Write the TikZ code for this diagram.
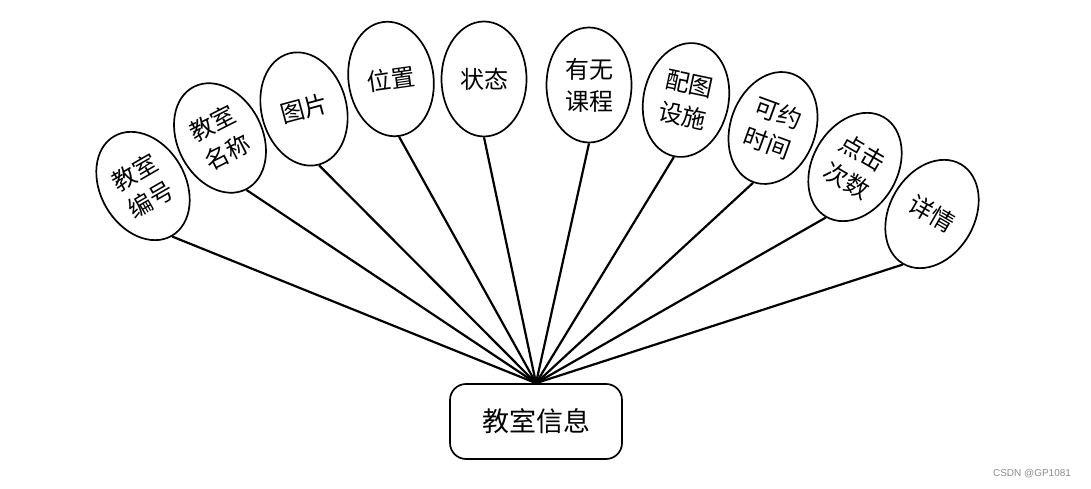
\documentclass[tikz,border=0pt]{standalone}
\usepackage{fontspec}
\setmainfont{Noto Sans CJK SC}
\newfontfamily\wmfont{Liberation Sans}
\usepackage{tikz}
\usetikzlibrary{shapes}
\tikzstyle{attr}=[draw,ellipse,line width=1.7pt,minimum width=85pt,minimum height=115pt,inner sep=0pt,align=center,font=\fontsize{24}{32}\selectfont]
\tikzstyle{entity}=[draw,rectangle,rounded corners=16pt,line width=1.7pt,minimum width=172pt,minimum height=75pt,font=\fontsize{27}{32}\selectfont]
\tikzstyle{link}=[line width=2.2pt]

\begin{document}
\begin{tikzpicture}[x=1pt,y=1pt]
    \useasboundingbox (0,0) rectangle (1091,489);
    \node[entity] (info) at (536,67.5) {教室信息};
    \node[attr, rotate=30] (num) at (143,303) {教室\\编号};
    \node[attr, rotate=27] (name) at (220,351) {教室\\名称};
    \node[attr, rotate=15] (pic) at (304,380) {图片};
    \node[attr, rotate=8] (pos) at (391,410) {位置};
    \node[attr] (state) at (484,410) {状态};
    \node[attr] (course) at (589,404) {有无\\课程};
    \node[attr, rotate=-12] (equip) at (686,389) {配图\\设施};
    \node[attr, rotate=-20] (time) at (773,361) {可约\\时间};
    \node[attr, rotate=-30] (clicks) at (855,322) {点击\\次数};
    \node[attr, rotate=-30] (detail) at (932,275) {详情};
    \node[font=\wmfont\fontsize{10}{12}\selectfont, text=black!45] (mark) at (1032,15) {CSDN @GP1081};
    \draw[link] (info.north) -- (num.south);
    \draw[link] (info.north) -- (name.south);
    \draw[link] (info.north) -- (pic.south);
    \draw[link] (info.north) -- (pos.south);
    \draw[link] (info.north) -- (state.south);
    \draw[link] (info.north) -- (course.south);
    \draw[link] (info.north) -- (equip.south);
    \draw[link] (info.north) -- (time.south);
    \draw[link] (info.north) -- (clicks.south);
    \draw[link] (info.north) -- (detail.south);
\end{tikzpicture}
\end{document}
